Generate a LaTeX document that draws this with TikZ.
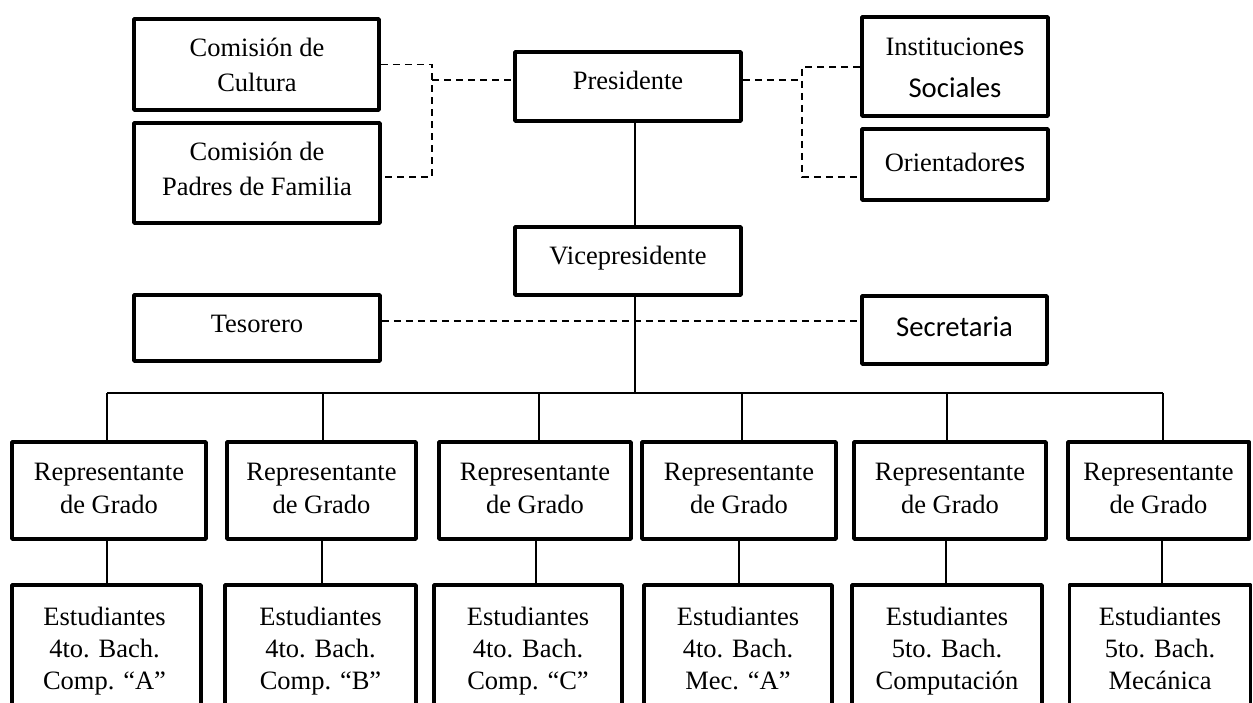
\documentclass[tikz,border=0pt]{standalone}
\usepackage{fontspec}
\setmainfont{Liberation Serif}
\newfontfamily\calfont{Carlito}
\newcommand\calsz{\calfont\fontsize{28.7}{34}\selectfont}
\newcommand\tstrut{\rule[-9.6pt]{0pt}{32pt}}
\begin{document}
\begin{tikzpicture}[x=1pt,y=-1pt,
  box/.style={draw, line width=3.8pt, line join=round, inner sep=0pt},
  txt/.style={align=center, inner sep=0pt, font=\fontsize{26.5}{32}\selectfont,
    execute at begin node=\tstrut, execute at end node=\tstrut},
  conn/.style={line width=1.3pt},
  dl/.style={line width=1.4pt, dash pattern=on 7pt off 5pt}]
\useasboundingbox (0,0) rectangle (1253,702);
\clip (0,0) rectangle (1253,702);

% top boxes
\node[box, minimum width=245pt, minimum height=91pt] (cult) at (256.5,64.5) {};
\node[txt] (cultT) at (257,69.5) {Comisión de\\[3pt]Cultura};
\node[box, minimum width=246pt, minimum height=100pt] (padres) at (257,173) {};
\node[txt] (padresT) at (257,173.5) {Comisión de\\[3pt]Padres de Familia};
\node[box, minimum width=226pt, minimum height=69pt] (pres) at (628,86.5) {};
\node[txt] (presT) at (628,83) {Presidente};
\node[box, minimum width=186pt, minimum height=99pt] (inst) at (955,66.5) {};
\node[txt] (instT) at (955,72.5) {Institucion{\calsz es}\\[10pt]{\calsz Sociales}};
\node[box, minimum width=186pt, minimum height=71pt] (orient) at (955,164.5) {};
\node[txt] (orientT) at (955,165.5) {Orientador{\calsz es}};
\node[box, minimum width=226pt, minimum height=68pt] (vice) at (628,261) {};
\node[txt] (viceT) at (628,258) {Vicepresidente};
\node[box, minimum width=246pt, minimum height=66pt] (tes) at (257,328) {};
\node[txt] (tesT) at (257,326.5) {Tesorero};
\node[box, minimum width=185pt, minimum height=68pt] (sec) at (954.5,330) {};
\node[txt] (secT) at (954.5,330) {\calsz Secretaria};

% representatives
\foreach \i/\cx/\w in {1/109/194, 2/321.5/189, 3/535/192, 4/739/194, 5/950/192, 6/1158.5/181}{
  \node[box, minimum width=\w pt, minimum height=97pt] (r\i) at (\cx,490.5) {};
  \node[txt] (r\i T) at (\cx,493.5) {Representante\\[1pt]de Grado};
}
% students
\node[box, minimum width=189pt, minimum height=135pt] (s1) at (106.5,652.5) {};
\node[txt] (s1T) at (104.5,653) {Estudiantes\\4to. Bach.\\Comp. ``A''};
\node[box, minimum width=191pt, minimum height=135pt] (s2) at (320.5,652.5) {};
\node[txt] (s2T) at (320.5,653) {Estudiantes\\4to. Bach.\\Comp. ``B''};
\node[box, minimum width=188pt, minimum height=135pt] (s3) at (528,652.5) {};
\node[txt] (s3T) at (528,653) {Estudiantes\\4to. Bach.\\Comp. ``C''};
\node[box, minimum width=188pt, minimum height=135pt] (s4) at (738,652.5) {};
\node[txt] (s4T) at (738,653) {Estudiantes\\4to. Bach.\\Mec. ``A''};
\node[box, minimum width=190pt, minimum height=135pt] (s5) at (947,652.5) {};
\node[txt] (s5T) at (947,653) {Estudiantes\\5to. Bach.\\Computación};
\node[box, minimum width=181pt, minimum height=135pt] (s6) at (1160,652.5) {};
\node[txt] (s6T) at (1160,653) {Estudiantes\\5to. Bach.\\Mecánica};

% junction coordinates
\coordinate (tk) at (635,393);
\coordinate (jL) at (432,80);
\coordinate (jLt) at (432,64.5);
\coordinate (jLb) at (432,177);
\coordinate (jR) at (802,80);
\coordinate (jRt) at (802,67);
\coordinate (jRb) at (802,177);
\coordinate (tsy) at (0,321);
\foreach \i/\x in {1/107, 2/323, 3/539, 4/742, 5/947, 6/1163}{
  \coordinate (d\i) at (\x,393);
}
\foreach \i/\x in {1/107, 2/322, 3/536, 4/739, 5/946, 6/1162}{
  \coordinate (e\i) at (\x,560);
}

% solid connectors
\draw[conn] (pres.south -| tk) -- (vice.north -| tk);
\draw[conn] (vice.south -| tk) -- (tk);
\draw[conn] (d1) -- (d6);
\foreach \i in {1,...,6}{
  \draw[conn] (d\i) -- (d\i |- r\i.north);
  \draw[conn] (e\i |- r\i.south) -- (e\i |- s\i.north);
}

% dashed connectors
\draw[dl] (cult.east |- jLt) -- (jLt) -- (jLb) -- (padres.east |- jLb);
\draw[dl] (jL) -- (pres.west |- jL);
\draw[dl] (pres.east |- jR) -- (jR);
\draw[dl] (inst.west |- jRt) -- (jRt) -- (jRb) -- (orient.west |- jRb);
\draw[dl] (tes.east |- tsy) -- (sec.west |- tsy);
\end{tikzpicture}
\end{document}
